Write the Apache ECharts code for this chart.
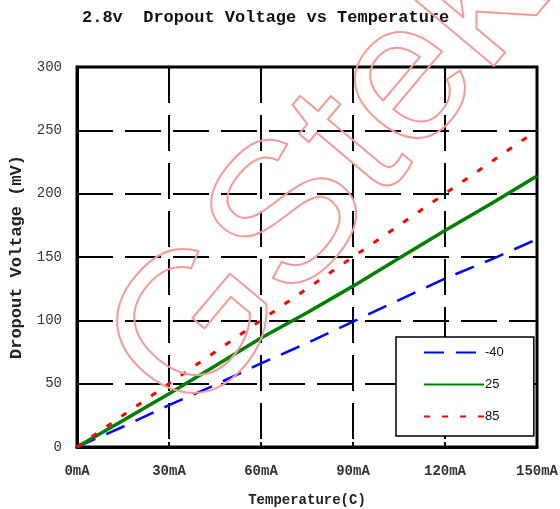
<!DOCTYPE html>
<html><head><meta charset="utf-8">
<script src="https://cdn.jsdelivr.net/npm/echarts@6/dist/echarts.min.js"></script>
<style>html,body{margin:0;padding:0;background:#fff}#c{width:560px;height:509px}</style>
</head><body><div id="c"></div>
<script>
const titleText = '2.8v  Dropout Voltage vs Temperature';
const xName = 'Temperature(C)';
const yName = 'Dropout Voltage (mV)';
const xTicks = [0, 30, 60, 90, 120, 150];
const current = [0, 15, 30, 45, 60, 75, 90, 105, 120, 135, 150];
const vMinus40 = [0, 16, 33, 49, 66, 82, 99, 116, 133, 148, 164];
const v25 = [0, 21, 42, 64, 86, 106, 127, 149, 171, 192, 214];
const v85 = [0, 25, 50, 75, 100, 125, 150, 175, 200, 225, 250];
const seriesNames = ['-40', '25', '85'];
const watermark = 'GStek';

const mono = '"Liberation Mono", "DejaVu Sans Mono", monospace';
const pair = (xs, ys) => xs.map((x, i) => [x, ys[i]]);

const chart = echarts.init(document.getElementById('c'), null, {renderer: 'canvas'});
chart.setOption({
  animation: false,
  backgroundColor: '#fff',
  title: {
    text: titleText, left: 82, top: 9, padding: 0,
    textStyle: {fontFamily: mono, fontSize: 17, fontWeight: 'bold', color: '#111'}
  },
  grid: {left: 77, right: 23, top: 67, bottom: 62, outerBoundsMode: 'none', containLabel: false,
    show: true, borderColor: '#000', borderWidth: 3, backgroundColor: 'transparent'},
  legend: {
    data: seriesNames, orient: 'vertical', left: 396, top: 337,
    itemWidth: 60, itemHeight: 14, itemGap: 19,
    padding: [9, 30, 13, 27],
    itemStyle: {opacity: 0},
    backgroundColor: '#fff', borderColor: '#000', borderWidth: 1.5,
    textStyle: {fontFamily: '"Liberation Sans", Arial, sans-serif', fontSize: 13, color: '#111', padding: [0, 0, 0, -4]}
  },
  xAxis: {
    type: 'value', min: 0, max: 150, interval: 30,
    name: xName, nameLocation: 'middle', nameGap: 46,
    nameTextStyle: {fontFamily: mono, fontSize: 14, fontWeight: 'bold', color: '#222'},
    axisLine: {lineStyle: {color: '#000', width: 3}},
    axisTick: {inside: true, length: 5, lineStyle: {color: '#000', width: 2}},
    axisLabel: {fontFamily: mono, fontSize: 14, fontWeight: 'bold', color: '#333', margin: 17,
      formatter: v => v + 'mA'},
    splitLine: {show: true, lineStyle: {color: '#000', width: 2, type: [36, 12]}}
  },
  yAxis: {
    type: 'value', min: 0, max: 300, interval: 50,
    name: yName, nameLocation: 'middle', nameGap: 52,
    nameTextStyle: {fontFamily: mono, fontSize: 17, fontWeight: 'bold', color: '#222'},
    axisLine: {lineStyle: {color: '#000', width: 3}},
    axisTick: {show: false},
    axisLabel: {fontFamily: mono, fontSize: 14, color: '#333', margin: 15},
    splitLine: {show: true, lineStyle: {color: '#000', width: 2, type: [36, 12]}}
  },
  series: [
    {name: seriesNames[0], type: 'line', data: pair(current, vMinus40), symbol: 'none', color: '#0000ff',
      lineStyle: {color: '#0000ff', width: 2.5, type: [20, 12]}},
    {name: seriesNames[1], type: 'line', data: pair(current, v25), symbol: 'none', color: '#008000',
      lineStyle: {color: '#008000', width: 3.5}},
    {name: seriesNames[2], type: 'line', data: pair(current, v85), symbol: 'none', color: '#ff0000',
      lineStyle: {color: '#ff0000', width: 3, type: [6, 12]}}
  ],
  graphic: [{
    type: 'text', x: 150, y: 390, rotation: 50 * Math.PI / 180, z: 100, silent: true,
    style: {
      text: watermark, font: '200px "Liberation Sans", Arial, sans-serif',
      fill: 'none', stroke: '#f59a9a', lineWidth: 2,
      align: 'left', verticalAlign: 'middle', textAlign: 'left', textVerticalAlign: 'middle'
    }
  }]
});
</script></body></html>
